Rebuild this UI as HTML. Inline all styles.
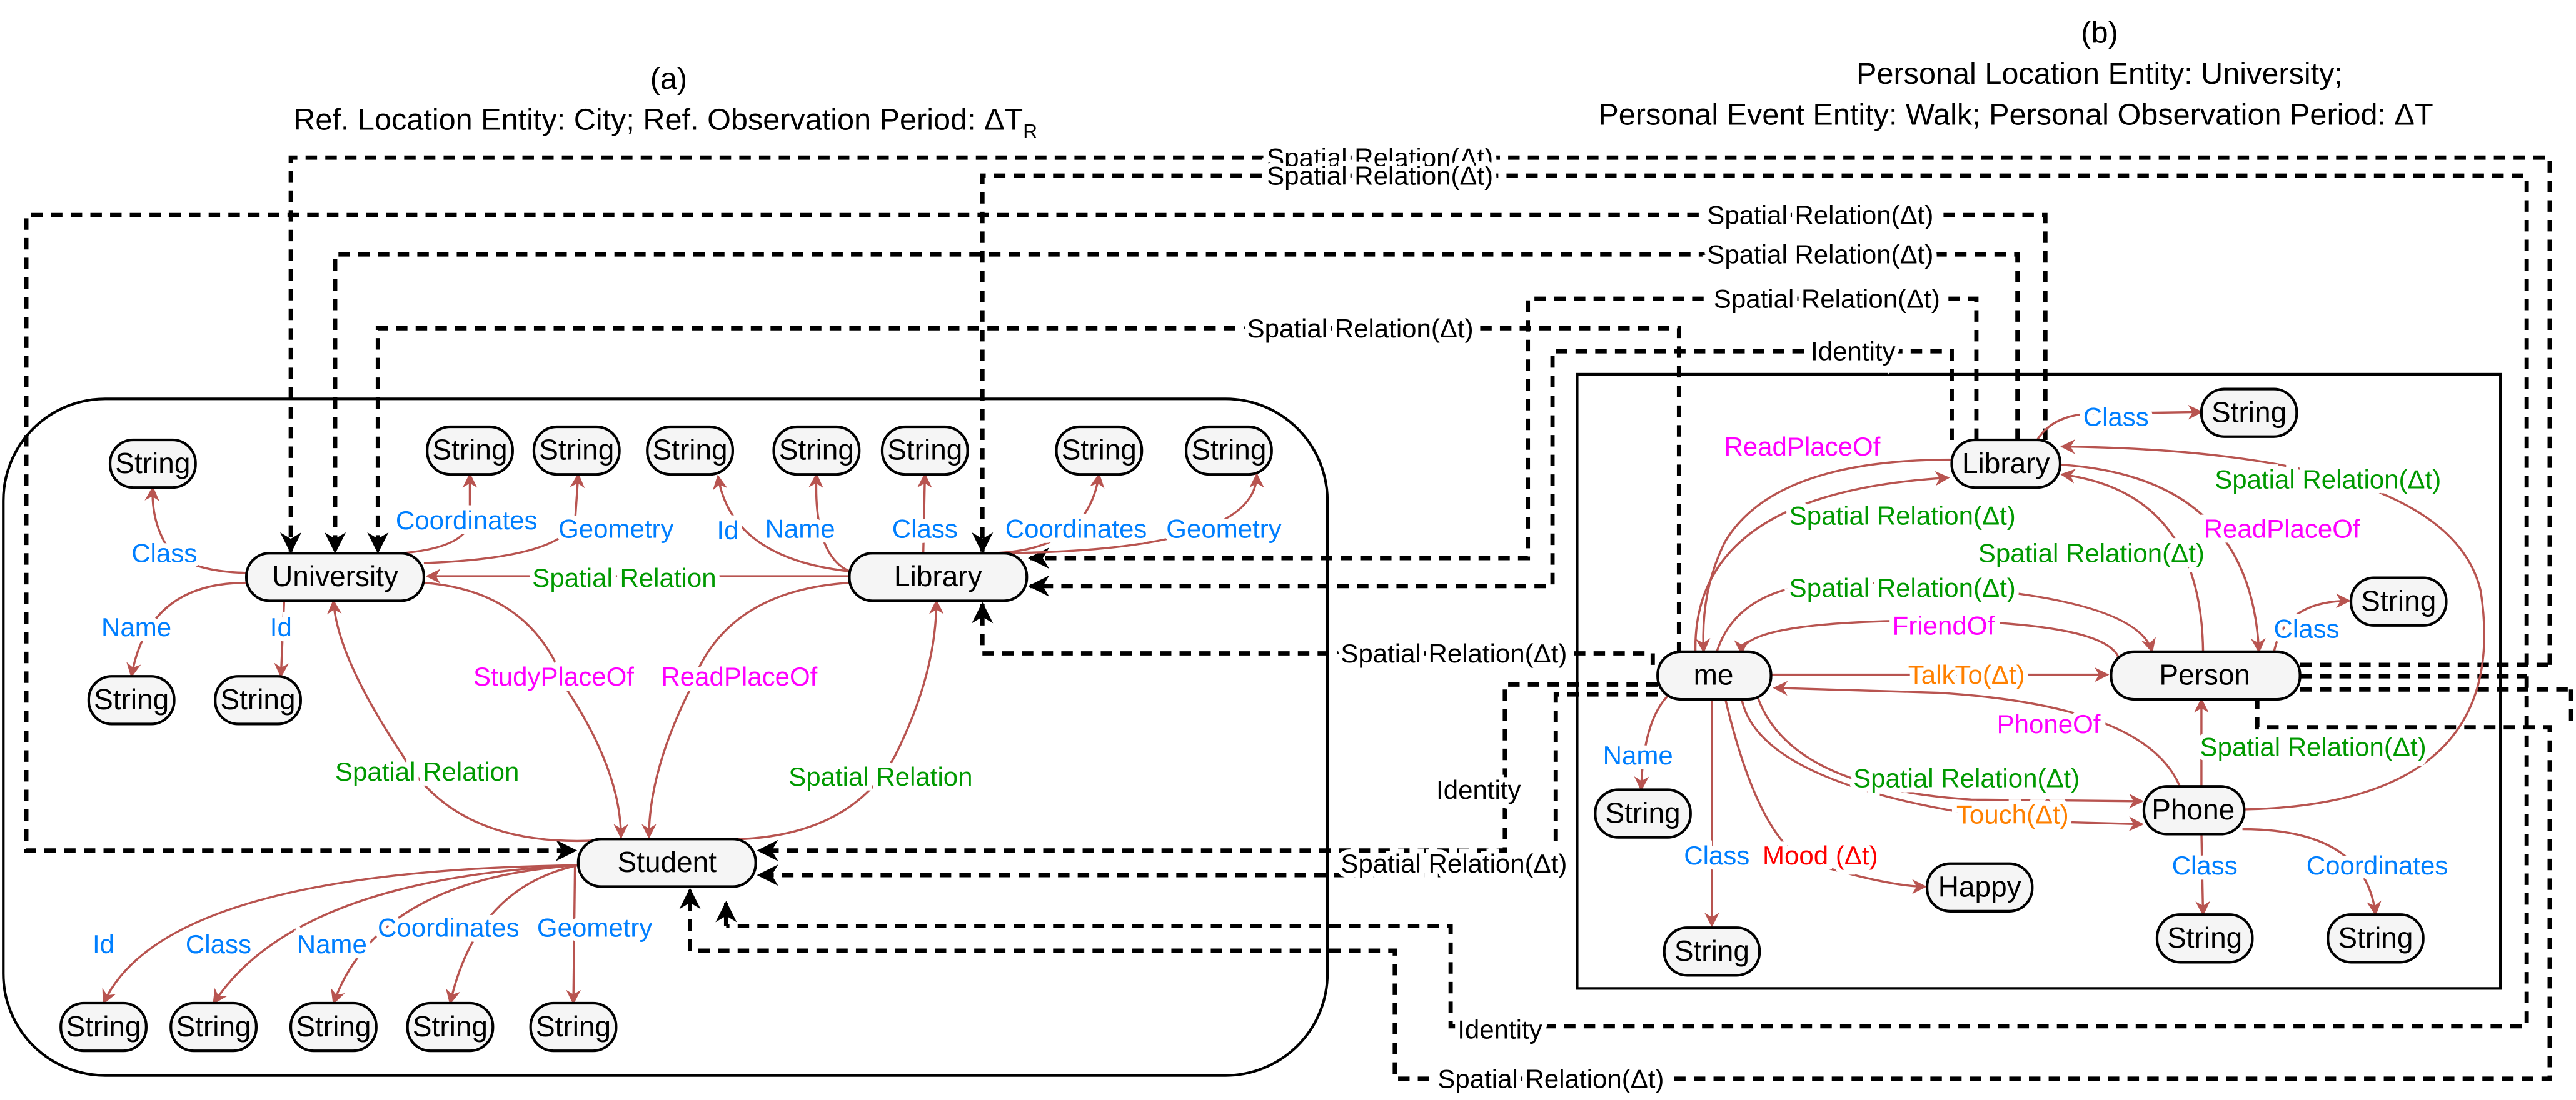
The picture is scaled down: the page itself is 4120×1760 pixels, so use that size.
<!DOCTYPE html>
<html><head><meta charset="utf-8"><style>
html,body{margin:0;padding:0;background:#fff;}
svg{display:block;}
text{font-family:"Liberation Sans",sans-serif;}
.n{fill:#f5f5f5;stroke:#000;stroke-width:1.6;}
.nt{font-size:17.5px;fill:#000;text-anchor:middle;dominant-baseline:central;}
.e{fill:none;stroke:#b85450;stroke-width:1.3;marker-end:url(#ra);}
.d{fill:none;stroke:#000;stroke-width:2.6;stroke-dasharray:7 5;}
.dm{marker-end:url(#ba);}
.l{font-size:16px;text-anchor:middle;dominant-baseline:central;}
.lb{fill:#007fff;paint-order:stroke;stroke:#fff;stroke-width:6px;}
.lg{fill:#009900;paint-order:stroke;stroke:#fff;stroke-width:6px;}
.lm{fill:#ff00ff;paint-order:stroke;stroke:#fff;stroke-width:6px;}
.lo{fill:#ff8000;paint-order:stroke;stroke:#fff;stroke-width:6px;}
.lr{fill:#ff0000;paint-order:stroke;stroke:#fff;stroke-width:6px;}
.lk{fill:#000;paint-order:stroke;stroke:#fff;stroke-width:6px;}
.t{font-size:18.5px;text-anchor:middle;fill:#000;}
</style></head><body>
<svg width="4120" height="1760" viewBox="0 0 1568 670" preserveAspectRatio="none" xmlns="http://www.w3.org/2000/svg">
<defs>
<marker id="ra" viewBox="0 0 10 10" refX="9" refY="5" markerWidth="9" markerHeight="9" markerUnits="userSpaceOnUse" orient="auto"><path d="M0,0 L10,5 L0,10 L3,5 z" fill="#b85450"/></marker>
<marker id="ba" viewBox="0 0 10 10" refX="9" refY="5" markerWidth="13" markerHeight="13" markerUnits="userSpaceOnUse" orient="auto"><path d="M0,0 L10,5 L0,10 L3,5 z" fill="#000"/></marker>
</defs>

<text class="t" x="407" y="54">(a)</text>
<text class="t" x="405" y="79">Ref. Location Entity: City; Ref. Observation Period: ΔT<tspan font-size="12" dy="5">R</tspan></text>
<text class="t" x="1278" y="26">(b)</text>
<text class="t" x="1278" y="51">Personal Location Entity: University;</text>
<text class="t" x="1227" y="76">Personal Event Entity: Walk; Personal Observation Period: ΔT</text>

<rect x="2" y="243" width="806" height="412" rx="62" fill="none" stroke="#000" stroke-width="1.6"/>
<rect x="960" y="228" width="562" height="374" fill="none" stroke="#000" stroke-width="1.6"/>

<path class="d dm" d="M1552,405 L1552,96 L177,96 L177,336"/>
<path class="d dm" d="M1538,405 L1538,107 L598,107 L598,336"/>
<path class="d dm" d="M1245,268 L1245,131 L16,131 L16,518 L350,518"/>
<path class="d dm" d="M1228,268 L1228,155 L204,155 L204,336"/>
<path class="d dm" d="M1203,268 L1203,182 L930,182 L930,340 L627,340"/>
<path class="d dm" d="M1022,398 L1022,200 L230,200 L230,336"/>
<path class="d dm" d="M1188,268 L1188,214 L945,214 L945,357 L627,357"/>
<path class="d dm" d="M1006,405 L1006,398 L598,398 L598,368"/>
<path class="d dm" d="M1009,417 L916,417 L916,518 L462,518"/>
<path class="d dm" d="M1009,423 L947,423 L947,533 L462,533"/>
<path class="d" d="M1400,405 L1552,405"/>
<path class="d" d="M1400,412 L1538,412"/>
<path class="d" d="M1400,420 L1565,420"/>
<path class="d" d="M1374,425 L1374,443 L1552,443 L1552,657 L849,657 L849,579 L420,579"/>
<path class="d dm" d="M420,579 L420,542"/>
<path class="d" d="M1565,420 L1565,443"/>
<path class="d" d="M1538,412 L1538,625 L883,625 L883,564 L442,564"/>
<path class="d dm" d="M442,564 L442,550"/>

<text class="l lk" x="840" y="96">Spatial Relation(Δt)</text>
<text class="l lk" x="840" y="107">Spatial Relation(Δt)</text>
<text class="l lk" x="1108" y="131">Spatial Relation(Δt)</text>
<text class="l lk" x="1108" y="155">Spatial Relation(Δt)</text>
<text class="l lk" x="1112" y="182">Spatial Relation(Δt)</text>
<text class="l lk" x="828" y="200">Spatial Relation(Δt)</text>
<text class="l lk" x="1128" y="214">Identity</text>
<text class="l lk" x="885" y="398">Spatial Relation(Δt)</text>
<text class="l lk" x="900" y="481">Identity</text>
<text class="l lk" x="885" y="526">Spatial Relation(Δt)</text>
<text class="l lk" x="913" y="627">Identity</text>
<text class="l lk" x="944" y="657">Spatial Relation(Δt)</text>

<path class="e" d="M150,349 Q110,348 100,330 Q92,315 93,297"/>
<path class="e" d="M220,338 Q282,338 286,318 L286,289"/>
<path class="e" d="M258,343 Q340,340 350,318 L352,289"/>
<path class="e" d="M517,348 Q445,340 437,290"/>
<path class="e" d="M517,348 Q495,338 497,289"/>
<path class="e" d="M562,337 L563,289"/>
<path class="e" d="M600,337 Q662,337 669,289"/>
<path class="e" d="M600,337 Q765,337 765,289"/>
<path class="e" d="M517,351 L260,351"/>
<path class="e" d="M150,355 Q90,355 80,412"/>
<path class="e" d="M173,365 L171,412"/>
<path class="e" d="M375,511 Q280,520 245,460 Q205,400 203,366"/>
<path class="e" d="M430,511 Q515,515 545,460 Q570,410 570,366"/>
<path class="e" d="M258,355 Q325,360 345,420 Q378,470 378,510"/>
<path class="e" d="M517,355 Q440,360 420,420 Q395,470 395,510"/>
<path class="e" d="M352,527 Q100,530 63,611"/>
<path class="e" d="M352,527 Q180,535 130,611"/>
<path class="e" d="M352,527 Q230,535 203,611"/>
<path class="e" d="M352,527 Q290,540 274,611"/>
<path class="e" d="M350,527 L349,611"/>

<text class="l lb" x="100" y="337">Class</text>
<text class="l lb" x="284" y="317">Coordinates</text>
<text class="l lb" x="375" y="322">Geometry</text>
<text class="l lb" x="443" y="323">Id</text>
<text class="l lb" x="487" y="322">Name</text>
<text class="l lb" x="563" y="322">Class</text>
<text class="l lb" x="655" y="322">Coordinates</text>
<text class="l lb" x="745" y="322">Geometry</text>
<text class="l lg" x="380" y="352">Spatial Relation</text>
<text class="l lb" x="83" y="382">Name</text>
<text class="l lb" x="171" y="382">Id</text>
<text class="l lg" x="260" y="470">Spatial Relation</text>
<text class="l lg" x="536" y="473">Spatial Relation</text>
<text class="l lm" x="337" y="412">StudyPlaceOf</text>
<text class="l lm" x="450" y="412">ReadPlaceOf</text>
<text class="l lb" x="63" y="575">Id</text>
<text class="l lb" x="133" y="575">Class</text>
<text class="l lb" x="202" y="575">Name</text>
<text class="l lb" x="273" y="565">Coordinates</text>
<text class="l lb" x="362" y="565">Geometry</text>

<path class="e" d="M1240,268 Q1250,252 1275,252 L1340,251"/>
<path class="e" d="M1188,280 Q1080,280 1050,330 Q1035,360 1037,397"/>
<path class="e" d="M1032,397 Q1030,300 1186,291"/>
<path class="e" d="M1341,397 Q1340,300 1255,289"/>
<path class="e" d="M1253,283 Q1370,290 1375,397"/>
<path class="e" d="M1365,493 Q1530,490 1510,360 Q1490,275 1255,272"/>
<path class="e" d="M1045,397 Q1060,350 1140,355 Q1300,360 1310,397"/>
<path class="e" d="M1290,402 Q1285,380 1180,378 Q1060,378 1060,398"/>
<path class="e" d="M1078,411 L1283,411"/>
<path class="e" d="M1328,482 Q1310,430 1180,422 L1080,419"/>
<path class="e" d="M1340,480 L1340,426"/>
<path class="e" d="M1070,425 Q1090,480 1200,487 L1304,488"/>
<path class="e" d="M1060,425 Q1070,480 1230,500 L1304,502"/>
<path class="e" d="M1015,424 Q1000,440 999,481"/>
<path class="e" d="M1042,425 L1042,564"/>
<path class="e" d="M1050,425 Q1070,510 1100,525 Q1150,540 1172,540"/>
<path class="e" d="M1340,507 L1341,557"/>
<path class="e" d="M1365,505 Q1440,505 1446,557"/>
<path class="e" d="M1384,398 Q1390,366 1430,366"/>

<text class="l lb" x="1288" y="254">Class</text>
<text class="l lm" x="1097" y="272">ReadPlaceOf</text>
<text class="l lg" x="1158" y="314">Spatial Relation(Δt)</text>
<text class="l lg" x="1273" y="337">Spatial Relation(Δt)</text>
<text class="l lm" x="1389" y="322">ReadPlaceOf</text>
<text class="l lg" x="1417" y="292">Spatial Relation(Δt)</text>
<text class="l lg" x="1158" y="358">Spatial Relation(Δt)</text>
<text class="l lm" x="1183" y="381">FriendOf</text>
<text class="l lo" x="1197" y="411">TalkTo(Δt)</text>
<text class="l lm" x="1247" y="441">PhoneOf</text>
<text class="l lg" x="1408" y="455">Spatial Relation(Δt)</text>
<text class="l lg" x="1197" y="474">Spatial Relation(Δt)</text>
<text class="l lo" x="1225" y="496">Touch(Δt)</text>
<text class="l lb" x="997" y="460">Name</text>
<text class="l lb" x="1045" y="521">Class</text>
<text class="l lr" x="1108" y="521">Mood (Δt)</text>
<text class="l lb" x="1342" y="527">Class</text>
<text class="l lb" x="1447" y="527">Coordinates</text>
<text class="l lb" x="1404" y="383">Class</text>

<g>
<rect class="n" x="67" y="268" width="52" height="29" rx="14"/><text class="nt" x="93" y="282">String</text>
<rect class="n" x="260" y="260" width="52" height="29" rx="14"/><text class="nt" x="286" y="274">String</text>
<rect class="n" x="325" y="260" width="52" height="29" rx="14"/><text class="nt" x="351" y="274">String</text>
<rect class="n" x="394" y="260" width="52" height="29" rx="14"/><text class="nt" x="420" y="274">String</text>
<rect class="n" x="471" y="260" width="52" height="29" rx="14"/><text class="nt" x="497" y="274">String</text>
<rect class="n" x="537" y="260" width="52" height="29" rx="14"/><text class="nt" x="563" y="274">String</text>
<rect class="n" x="643" y="260" width="52" height="29" rx="14"/><text class="nt" x="669" y="274">String</text>
<rect class="n" x="722" y="260" width="52" height="29" rx="14"/><text class="nt" x="748" y="274">String</text>
<rect class="n" x="150" y="337" width="108" height="29" rx="14"/><text class="nt" x="204" y="351">University</text>
<rect class="n" x="517" y="337" width="108" height="29" rx="14"/><text class="nt" x="571" y="351">Library</text>
<rect class="n" x="54" y="412" width="52" height="29" rx="14"/><text class="nt" x="80" y="426">String</text>
<rect class="n" x="131" y="412" width="52" height="29" rx="14"/><text class="nt" x="157" y="426">String</text>
<rect class="n" x="352" y="511" width="108" height="29" rx="14"/><text class="nt" x="406" y="525">Student</text>
<rect class="n" x="37" y="611" width="52" height="29" rx="14"/><text class="nt" x="63" y="625">String</text>
<rect class="n" x="104" y="611" width="52" height="29" rx="14"/><text class="nt" x="130" y="625">String</text>
<rect class="n" x="177" y="611" width="52" height="29" rx="14"/><text class="nt" x="203" y="625">String</text>
<rect class="n" x="248" y="611" width="52" height="29" rx="14"/><text class="nt" x="274" y="625">String</text>
<rect class="n" x="323" y="611" width="52" height="29" rx="14"/><text class="nt" x="349" y="625">String</text>
</g>
<g>
<rect class="n" x="1188" y="268" width="66" height="29" rx="14"/><text class="nt" x="1221" y="282">Library</text>
<rect class="n" x="1340" y="237" width="58" height="29" rx="14"/><text class="nt" x="1369" y="251">String</text>
<rect class="n" x="1009" y="397" width="69" height="29" rx="14"/><text class="nt" x="1043" y="411">me</text>
<rect class="n" x="1285" y="397" width="115" height="29" rx="14"/><text class="nt" x="1342" y="411">Person</text>
<rect class="n" x="1431" y="352" width="58" height="29" rx="14"/><text class="nt" x="1460" y="366">String</text>
<rect class="n" x="1305" y="479" width="61" height="29" rx="14"/><text class="nt" x="1335" y="493">Phone</text>
<rect class="n" x="971" y="481" width="58" height="29" rx="14"/><text class="nt" x="1000" y="495">String</text>
<rect class="n" x="1013" y="565" width="58" height="29" rx="14"/><text class="nt" x="1042" y="579">String</text>
<rect class="n" x="1173" y="526" width="64" height="29" rx="14"/><text class="nt" x="1205" y="540">Happy</text>
<rect class="n" x="1313" y="557" width="58" height="29" rx="14"/><text class="nt" x="1342" y="571">String</text>
<rect class="n" x="1417" y="557" width="58" height="29" rx="14"/><text class="nt" x="1446" y="571">String</text>
</g>
</svg>
</body></html>
